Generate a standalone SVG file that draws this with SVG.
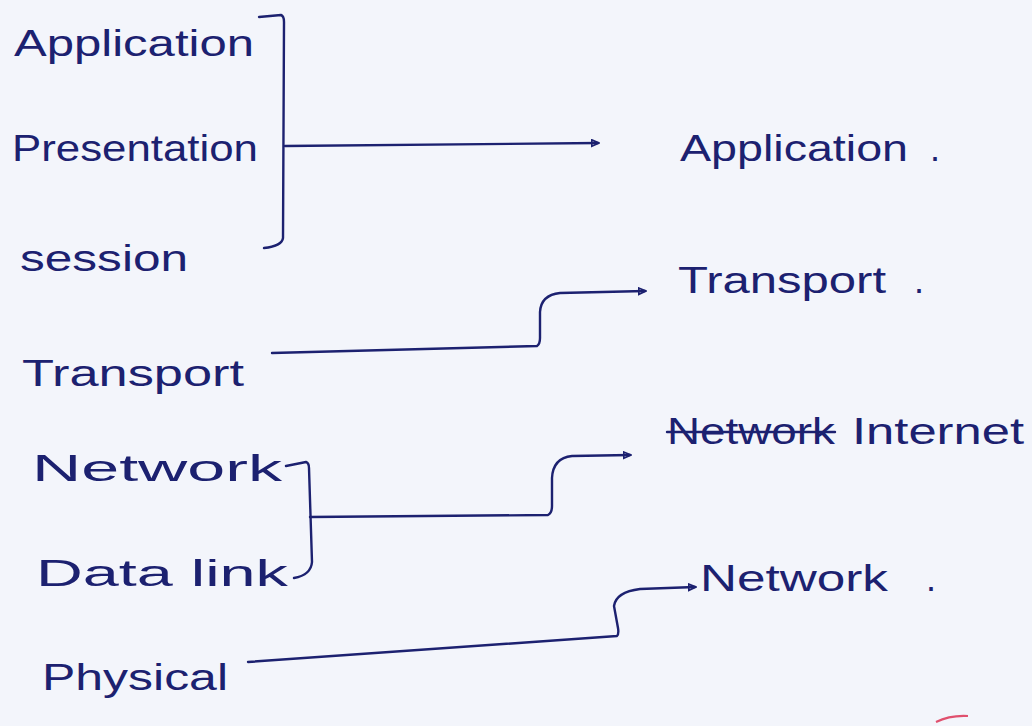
<svg xmlns="http://www.w3.org/2000/svg" width="1032" height="726" viewBox="0 0 1032 726">
  <style>
    .t { font-family: "Liberation Sans", "DejaVu Sans", sans-serif; font-size: 36px; fill: #1c2170; }
    .ln { fill: none; stroke: #1c2170; stroke-width: 2.4; stroke-linecap: round; stroke-linejoin: round; }
  </style>
  <defs>
    <marker id="ah" viewBox="0 0 10 10" refX="8" refY="5" markerWidth="9" markerHeight="9" orient="auto" markerUnits="userSpaceOnUse">
      <path d="M1,1.5 L9,5 L1,8.5 Z" fill="none" stroke="#1c2170" stroke-width="2"/>
    </marker>
  </defs>
  <rect x="0" y="0" width="1032" height="726" fill="#f3f5fb"/>

  <g id="left-application"><text class="t" x="14" y="56" textLength="240" lengthAdjust="spacingAndGlyphs">Application</text></g>
  <g id="left-presentation"><text class="t" x="12" y="161" textLength="246" lengthAdjust="spacingAndGlyphs">Presentation</text></g>
  <g id="left-session"><text class="t" x="20" y="271" textLength="168" lengthAdjust="spacingAndGlyphs">session</text></g>
  <g id="left-transport"><text class="t" x="22" y="386" textLength="222" lengthAdjust="spacingAndGlyphs">Transport</text></g>
  <g id="left-network"><text class="t" x="32" y="481" textLength="250" lengthAdjust="spacingAndGlyphs">Network</text></g>
  <g id="left-datalink"><text class="t" x="36" y="586" textLength="252" lengthAdjust="spacingAndGlyphs">Data link</text></g>
  <g id="left-physical"><text class="t" x="42" y="690" textLength="186" lengthAdjust="spacingAndGlyphs">Physical</text></g>

  <g id="right-application"><text class="t" x="680" y="161" textLength="228" lengthAdjust="spacingAndGlyphs">Application</text><text class="t" x="930" y="161">.</text></g>
  <g id="right-transport"><text class="t" x="678" y="293" textLength="208" lengthAdjust="spacingAndGlyphs">Transport</text><text class="t" x="914" y="293">.</text></g>
  <g id="right-internet">
    <text class="t" x="667" y="444" textLength="168" lengthAdjust="spacingAndGlyphs">Network</text>
    <line class="ln" x1="667" y1="432" x2="835" y2="432" stroke-width="3"/>
    <text class="t" x="852" y="444" textLength="172" lengthAdjust="spacingAndGlyphs">Internet</text>
  </g>
  <g id="right-network"><text class="t" x="700" y="591" textLength="188" lengthAdjust="spacingAndGlyphs">Network</text><text class="t" x="926" y="591">.</text></g>

  <g id="connectors">
    <path class="ln" d="M259,17 L281,15 Q284,16 284,22 L283,238 Q282,246 264,248"/>
    <path class="ln" d="M285,146 L598,143" marker-end="url(#ah)"/>
    <path class="ln" d="M272,353 L537,346 Q540,344 540,338 L540,312 Q541,295 560,293 L645,291" marker-end="url(#ah)"/>
    <path class="ln" d="M286,466 L306,462 Q309,463 309,468 L312,562 Q311,575 294,578"/>
    <path class="ln" d="M310,517 L548,515 Q552,513 552,506 L552,478 Q553,458 572,456 L630,455" marker-end="url(#ah)"/>
    <path class="ln" d="M248,662 L617,636 Q619,634 618,628 L614,606 Q616,592 640,589 L695,587" marker-end="url(#ah)"/>
  </g>
  <path d="M936,722 Q950,715 968,716" fill="none" stroke="#e0506e" stroke-width="2"/>
</svg>
